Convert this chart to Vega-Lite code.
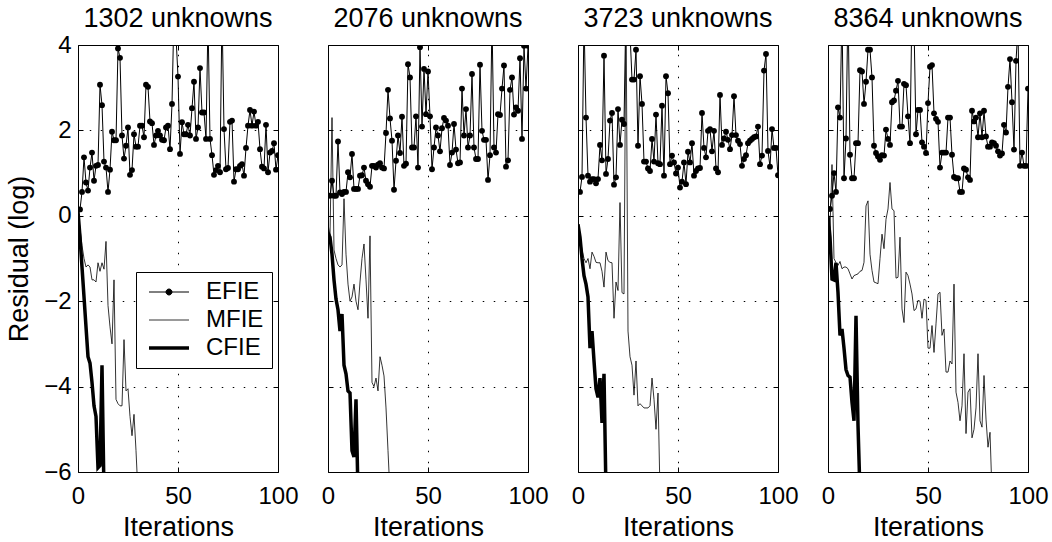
{
"$schema": "https://vega.github.io/schema/vega-lite/v6.json",
"padding": 5,
"bounds": "flush",
"config": {
 "font": "Liberation Sans",
 "view": {"stroke": "black", "strokeWidth": 1},
 "axis": {"domain": false, "ticks": false, "grid": true, "gridColor": "black", "gridOpacity": 1, "gridWidth": 1, "labelFontSize": 24, "labelColor": "black", "titleFontSize": 27, "titleFontWeight": "normal", "titleColor": "black", "labelFont": "Liberation Sans", "titleFont": "Liberation Sans", "labelFlush": false, "labelOverlap": false}
},
"spacing": 50,
"data": {"values": [
{"p":"1302 unknowns","s":"EFIE","x":1,"y":0.15},{"p":"1302 unknowns","s":"EFIE","x":2,"y":0.56},{"p":"1302 unknowns","s":"EFIE","x":3,"y":1.37},{"p":"1302 unknowns","s":"EFIE","x":4,"y":0.78},{"p":"1302 unknowns","s":"EFIE","x":5,"y":0.59},{"p":"1302 unknowns","s":"EFIE","x":6,"y":1.13},{"p":"1302 unknowns","s":"EFIE","x":7,"y":1.48},{"p":"1302 unknowns","s":"EFIE","x":8,"y":0.82},{"p":"1302 unknowns","s":"EFIE","x":9,"y":1.17},{"p":"1302 unknowns","s":"EFIE","x":10,"y":1.19},
{"p":"1302 unknowns","s":"EFIE","x":11,"y":3.07},{"p":"1302 unknowns","s":"EFIE","x":12,"y":2.59},{"p":"1302 unknowns","s":"EFIE","x":13,"y":1.27},{"p":"1302 unknowns","s":"EFIE","x":14,"y":1.13},{"p":"1302 unknowns","s":"EFIE","x":15,"y":0.56},{"p":"1302 unknowns","s":"EFIE","x":16,"y":1.08},{"p":"1302 unknowns","s":"EFIE","x":17,"y":1.97},{"p":"1302 unknowns","s":"EFIE","x":18,"y":1.77},{"p":"1302 unknowns","s":"EFIE","x":19,"y":1.77},{"p":"1302 unknowns","s":"EFIE","x":20,"y":3.92},
{"p":"1302 unknowns","s":"EFIE","x":21,"y":3.70},{"p":"1302 unknowns","s":"EFIE","x":22,"y":1.88},{"p":"1302 unknowns","s":"EFIE","x":23,"y":1.34},{"p":"1302 unknowns","s":"EFIE","x":24,"y":1.64},{"p":"1302 unknowns","s":"EFIE","x":25,"y":2.07},{"p":"1302 unknowns","s":"EFIE","x":26,"y":0.96},{"p":"1302 unknowns","s":"EFIE","x":27,"y":1.07},{"p":"1302 unknowns","s":"EFIE","x":28,"y":1.91},{"p":"1302 unknowns","s":"EFIE","x":29,"y":1.62},{"p":"1302 unknowns","s":"EFIE","x":30,"y":1.62},
{"p":"1302 unknowns","s":"EFIE","x":31,"y":2.11},{"p":"1302 unknowns","s":"EFIE","x":32,"y":2.11},{"p":"1302 unknowns","s":"EFIE","x":33,"y":1.84},{"p":"1302 unknowns","s":"EFIE","x":34,"y":3.07},{"p":"1302 unknowns","s":"EFIE","x":35,"y":3.02},{"p":"1302 unknowns","s":"EFIE","x":36,"y":2.21},{"p":"1302 unknowns","s":"EFIE","x":37,"y":2.17},{"p":"1302 unknowns","s":"EFIE","x":38,"y":1.66},{"p":"1302 unknowns","s":"EFIE","x":39,"y":1.88},{"p":"1302 unknowns","s":"EFIE","x":40,"y":1.99},
{"p":"1302 unknowns","s":"EFIE","x":41,"y":1.88},{"p":"1302 unknowns","s":"EFIE","x":42,"y":1.78},{"p":"1302 unknowns","s":"EFIE","x":43,"y":1.77},{"p":"1302 unknowns","s":"EFIE","x":44,"y":2.07},{"p":"1302 unknowns","s":"EFIE","x":45,"y":2.11},{"p":"1302 unknowns","s":"EFIE","x":46,"y":1.56},{"p":"1302 unknowns","s":"EFIE","x":47,"y":2.62},{"p":"1302 unknowns","s":"EFIE","x":48,"y":4.8},{"p":"1302 unknowns","s":"EFIE","x":49,"y":4.2},{"p":"1302 unknowns","s":"EFIE","x":50,"y":3.26},
{"p":"1302 unknowns","s":"EFIE","x":51,"y":1.45},{"p":"1302 unknowns","s":"EFIE","x":52,"y":2.19},{"p":"1302 unknowns","s":"EFIE","x":53,"y":1.91},{"p":"1302 unknowns","s":"EFIE","x":54,"y":1.91},{"p":"1302 unknowns","s":"EFIE","x":55,"y":2.13},{"p":"1302 unknowns","s":"EFIE","x":56,"y":1.88},{"p":"1302 unknowns","s":"EFIE","x":57,"y":2.52},{"p":"1302 unknowns","s":"EFIE","x":58,"y":3.14},{"p":"1302 unknowns","s":"EFIE","x":59,"y":1.80},{"p":"1302 unknowns","s":"EFIE","x":60,"y":2.07},
{"p":"1302 unknowns","s":"EFIE","x":61,"y":3.46},{"p":"1302 unknowns","s":"EFIE","x":62,"y":2.42},{"p":"1302 unknowns","s":"EFIE","x":63,"y":2.42},{"p":"1302 unknowns","s":"EFIE","x":64,"y":1.80},{"p":"1302 unknowns","s":"EFIE","x":65,"y":4.6},{"p":"1302 unknowns","s":"EFIE","x":66,"y":1.80},{"p":"1302 unknowns","s":"EFIE","x":67,"y":1.42},{"p":"1302 unknowns","s":"EFIE","x":68,"y":0.96},{"p":"1302 unknowns","s":"EFIE","x":69,"y":1.07},{"p":"1302 unknowns","s":"EFIE","x":70,"y":1.17},
{"p":"1302 unknowns","s":"EFIE","x":71,"y":1.02},{"p":"1302 unknowns","s":"EFIE","x":72,"y":4.8},{"p":"1302 unknowns","s":"EFIE","x":73,"y":2.03},{"p":"1302 unknowns","s":"EFIE","x":74,"y":1.09},{"p":"1302 unknowns","s":"EFIE","x":75,"y":1.12},{"p":"1302 unknowns","s":"EFIE","x":76,"y":2.20},{"p":"1302 unknowns","s":"EFIE","x":77,"y":2.23},{"p":"1302 unknowns","s":"EFIE","x":78,"y":0.80},{"p":"1302 unknowns","s":"EFIE","x":79,"y":1.09},{"p":"1302 unknowns","s":"EFIE","x":80,"y":1.09},
{"p":"1302 unknowns","s":"EFIE","x":81,"y":1.17},{"p":"1302 unknowns","s":"EFIE","x":82,"y":1.21},{"p":"1302 unknowns","s":"EFIE","x":83,"y":0.94},{"p":"1302 unknowns","s":"EFIE","x":84,"y":1.59},{"p":"1302 unknowns","s":"EFIE","x":85,"y":2.11},{"p":"1302 unknowns","s":"EFIE","x":86,"y":2.48},{"p":"1302 unknowns","s":"EFIE","x":87,"y":2.11},{"p":"1302 unknowns","s":"EFIE","x":88,"y":2.44},{"p":"1302 unknowns","s":"EFIE","x":89,"y":2.11},{"p":"1302 unknowns","s":"EFIE","x":90,"y":2.20},
{"p":"1302 unknowns","s":"EFIE","x":91,"y":1.56},{"p":"1302 unknowns","s":"EFIE","x":92,"y":1.15},{"p":"1302 unknowns","s":"EFIE","x":93,"y":1.11},{"p":"1302 unknowns","s":"EFIE","x":94,"y":2.13},{"p":"1302 unknowns","s":"EFIE","x":95,"y":1.02},{"p":"1302 unknowns","s":"EFIE","x":96,"y":1.48},{"p":"1302 unknowns","s":"EFIE","x":97,"y":1.52},{"p":"1302 unknowns","s":"EFIE","x":98,"y":1.70},{"p":"1302 unknowns","s":"EFIE","x":99,"y":1.08},{"p":"1302 unknowns","s":"EFIE","x":100,"y":1.42},
{"p":"1302 unknowns","s":"MFIE","x":0,"y":0.1},{"p":"1302 unknowns","s":"MFIE","x":1,"y":-0.3},{"p":"1302 unknowns","s":"MFIE","x":2,"y":-0.7},{"p":"1302 unknowns","s":"MFIE","x":3,"y":-1.0},{"p":"1302 unknowns","s":"MFIE","x":4,"y":-1.2},{"p":"1302 unknowns","s":"MFIE","x":5,"y":-1.15},{"p":"1302 unknowns","s":"MFIE","x":6,"y":-1.2},{"p":"1302 unknowns","s":"MFIE","x":7,"y":-1.5},{"p":"1302 unknowns","s":"MFIE","x":8,"y":-1.5},{"p":"1302 unknowns","s":"MFIE","x":9,"y":-1.55},
{"p":"1302 unknowns","s":"MFIE","x":10,"y":-1.1},{"p":"1302 unknowns","s":"MFIE","x":11,"y":-1.3},{"p":"1302 unknowns","s":"MFIE","x":12,"y":-1.1},{"p":"1302 unknowns","s":"MFIE","x":13,"y":-1.25},{"p":"1302 unknowns","s":"MFIE","x":14,"y":-0.6},{"p":"1302 unknowns","s":"MFIE","x":15,"y":-2.1},{"p":"1302 unknowns","s":"MFIE","x":16,"y":-2.6},{"p":"1302 unknowns","s":"MFIE","x":17,"y":-3.0},{"p":"1302 unknowns","s":"MFIE","x":18,"y":-1.5},{"p":"1302 unknowns","s":"MFIE","x":19,"y":-4.3},
{"p":"1302 unknowns","s":"MFIE","x":20,"y":-4.4},{"p":"1302 unknowns","s":"MFIE","x":21,"y":-4.45},{"p":"1302 unknowns","s":"MFIE","x":22,"y":-4.45},{"p":"1302 unknowns","s":"MFIE","x":23,"y":-2.9},{"p":"1302 unknowns","s":"MFIE","x":24,"y":-4.1},{"p":"1302 unknowns","s":"MFIE","x":25,"y":-4.05},{"p":"1302 unknowns","s":"MFIE","x":26,"y":-4.7},{"p":"1302 unknowns","s":"MFIE","x":27,"y":-5.15},{"p":"1302 unknowns","s":"MFIE","x":28,"y":-4.65},{"p":"1302 unknowns","s":"MFIE","x":29,"y":-5.5},{"p":"1302 unknowns","s":"MFIE","x":30,"y":-6.5},
{"p":"1302 unknowns","s":"CFIE","x":0,"y":0.1},{"p":"1302 unknowns","s":"CFIE","x":1,"y":-0.5},{"p":"1302 unknowns","s":"CFIE","x":2,"y":-1.2},{"p":"1302 unknowns","s":"CFIE","x":3,"y":-1.9},{"p":"1302 unknowns","s":"CFIE","x":4,"y":-2.6},{"p":"1302 unknowns","s":"CFIE","x":5,"y":-3.3},{"p":"1302 unknowns","s":"CFIE","x":6,"y":-3.45},{"p":"1302 unknowns","s":"CFIE","x":7,"y":-3.9},{"p":"1302 unknowns","s":"CFIE","x":8,"y":-4.45},{"p":"1302 unknowns","s":"CFIE","x":9,"y":-4.7},{"p":"1302 unknowns","s":"CFIE","x":10,"y":-5.9},{"p":"1302 unknowns","s":"CFIE","x":11,"y":-5.85},{"p":"1302 unknowns","s":"CFIE","x":12,"y":-3.5},{"p":"1302 unknowns","s":"CFIE","x":13,"y":-6.5},
{"p":"2076 unknowns","s":"EFIE","x":1,"y":0.47},{"p":"2076 unknowns","s":"EFIE","x":2,"y":0.82},{"p":"2076 unknowns","s":"EFIE","x":3,"y":0.47},{"p":"2076 unknowns","s":"EFIE","x":4,"y":0.47},{"p":"2076 unknowns","s":"EFIE","x":5,"y":1.74},{"p":"2076 unknowns","s":"EFIE","x":6,"y":0.55},{"p":"2076 unknowns","s":"EFIE","x":7,"y":0.51},{"p":"2076 unknowns","s":"EFIE","x":8,"y":0.56},{"p":"2076 unknowns","s":"EFIE","x":9,"y":0.56},{"p":"2076 unknowns","s":"EFIE","x":10,"y":1.02},
{"p":"2076 unknowns","s":"EFIE","x":11,"y":0.9},{"p":"2076 unknowns","s":"EFIE","x":12,"y":1.45},{"p":"2076 unknowns","s":"EFIE","x":13,"y":0.63},{"p":"2076 unknowns","s":"EFIE","x":14,"y":0.63},{"p":"2076 unknowns","s":"EFIE","x":15,"y":0.63},{"p":"2076 unknowns","s":"EFIE","x":16,"y":0.94},{"p":"2076 unknowns","s":"EFIE","x":17,"y":0.95},{"p":"2076 unknowns","s":"EFIE","x":18,"y":1.13},{"p":"2076 unknowns","s":"EFIE","x":19,"y":0.82},{"p":"2076 unknowns","s":"EFIE","x":20,"y":0.74},
{"p":"2076 unknowns","s":"EFIE","x":21,"y":0.68},{"p":"2076 unknowns","s":"EFIE","x":22,"y":1.17},{"p":"2076 unknowns","s":"EFIE","x":23,"y":1.17},{"p":"2076 unknowns","s":"EFIE","x":24,"y":1.13},{"p":"2076 unknowns","s":"EFIE","x":25,"y":1.2},{"p":"2076 unknowns","s":"EFIE","x":26,"y":1.23},{"p":"2076 unknowns","s":"EFIE","x":27,"y":1.13},{"p":"2076 unknowns","s":"EFIE","x":28,"y":1.11},{"p":"2076 unknowns","s":"EFIE","x":29,"y":1.94},{"p":"2076 unknowns","s":"EFIE","x":30,"y":2.95},
{"p":"2076 unknowns","s":"EFIE","x":31,"y":2.28},{"p":"2076 unknowns","s":"EFIE","x":32,"y":1.76},{"p":"2076 unknowns","s":"EFIE","x":33,"y":0.61},{"p":"2076 unknowns","s":"EFIE","x":34,"y":1.29},{"p":"2076 unknowns","s":"EFIE","x":35,"y":1.88},{"p":"2076 unknowns","s":"EFIE","x":36,"y":1.47},{"p":"2076 unknowns","s":"EFIE","x":37,"y":2.32},{"p":"2076 unknowns","s":"EFIE","x":38,"y":1.17},{"p":"2076 unknowns","s":"EFIE","x":39,"y":1.22},{"p":"2076 unknowns","s":"EFIE","x":40,"y":3.55},
{"p":"2076 unknowns","s":"EFIE","x":41,"y":3.24},{"p":"2076 unknowns","s":"EFIE","x":42,"y":1.6},{"p":"2076 unknowns","s":"EFIE","x":43,"y":1.6},{"p":"2076 unknowns","s":"EFIE","x":44,"y":2.33},{"p":"2076 unknowns","s":"EFIE","x":45,"y":1.13},{"p":"2076 unknowns","s":"EFIE","x":46,"y":3.95},{"p":"2076 unknowns","s":"EFIE","x":47,"y":2.09},{"p":"2076 unknowns","s":"EFIE","x":48,"y":3.44},{"p":"2076 unknowns","s":"EFIE","x":49,"y":2.38},{"p":"2076 unknowns","s":"EFIE","x":50,"y":3.38},
{"p":"2076 unknowns","s":"EFIE","x":51,"y":2.33},{"p":"2076 unknowns","s":"EFIE","x":52,"y":1.09},{"p":"2076 unknowns","s":"EFIE","x":53,"y":1.6},{"p":"2076 unknowns","s":"EFIE","x":54,"y":2.07},{"p":"2076 unknowns","s":"EFIE","x":55,"y":1.88},{"p":"2076 unknowns","s":"EFIE","x":56,"y":1.51},{"p":"2076 unknowns","s":"EFIE","x":57,"y":2.05},{"p":"2076 unknowns","s":"EFIE","x":58,"y":2.29},{"p":"2076 unknowns","s":"EFIE","x":59,"y":2.23},{"p":"2076 unknowns","s":"EFIE","x":60,"y":2.11},
{"p":"2076 unknowns","s":"EFIE","x":61,"y":1.19},{"p":"2076 unknowns","s":"EFIE","x":62,"y":1.48},{"p":"2076 unknowns","s":"EFIE","x":63,"y":2.15},{"p":"2076 unknowns","s":"EFIE","x":64,"y":1.55},{"p":"2076 unknowns","s":"EFIE","x":65,"y":1.23},{"p":"2076 unknowns","s":"EFIE","x":66,"y":1.25},{"p":"2076 unknowns","s":"EFIE","x":67,"y":2.98},{"p":"2076 unknowns","s":"EFIE","x":68,"y":1.88},{"p":"2076 unknowns","s":"EFIE","x":69,"y":2.5},{"p":"2076 unknowns","s":"EFIE","x":70,"y":1.6},
{"p":"2076 unknowns","s":"EFIE","x":71,"y":1.88},{"p":"2076 unknowns","s":"EFIE","x":72,"y":3.32},{"p":"2076 unknowns","s":"EFIE","x":73,"y":1.6},{"p":"2076 unknowns","s":"EFIE","x":74,"y":1.33},{"p":"2076 unknowns","s":"EFIE","x":75,"y":1.33},{"p":"2076 unknowns","s":"EFIE","x":76,"y":3.54},{"p":"2076 unknowns","s":"EFIE","x":77,"y":1.99},{"p":"2076 unknowns","s":"EFIE","x":78,"y":1.78},{"p":"2076 unknowns","s":"EFIE","x":79,"y":1.78},{"p":"2076 unknowns","s":"EFIE","x":80,"y":0.84},
{"p":"2076 unknowns","s":"EFIE","x":81,"y":1.42},{"p":"2076 unknowns","s":"EFIE","x":82,"y":4.6},{"p":"2076 unknowns","s":"EFIE","x":83,"y":1.6},{"p":"2076 unknowns","s":"EFIE","x":84,"y":1.48},{"p":"2076 unknowns","s":"EFIE","x":85,"y":2.38},{"p":"2076 unknowns","s":"EFIE","x":86,"y":2.36},{"p":"2076 unknowns","s":"EFIE","x":87,"y":2.98},{"p":"2076 unknowns","s":"EFIE","x":88,"y":3.52},{"p":"2076 unknowns","s":"EFIE","x":89,"y":1.15},{"p":"2076 unknowns","s":"EFIE","x":90,"y":1.3},
{"p":"2076 unknowns","s":"EFIE","x":91,"y":2.95},{"p":"2076 unknowns","s":"EFIE","x":92,"y":3.24},{"p":"2076 unknowns","s":"EFIE","x":93,"y":2.37},{"p":"2076 unknowns","s":"EFIE","x":94,"y":2.54},{"p":"2076 unknowns","s":"EFIE","x":95,"y":2.46},{"p":"2076 unknowns","s":"EFIE","x":96,"y":3.69},{"p":"2076 unknowns","s":"EFIE","x":97,"y":1.8},{"p":"2076 unknowns","s":"EFIE","x":98,"y":3.98},{"p":"2076 unknowns","s":"EFIE","x":99,"y":2.98},{"p":"2076 unknowns","s":"EFIE","x":100,"y":3.98},
{"p":"2076 unknowns","s":"MFIE","x":0,"y":-0.2},{"p":"2076 unknowns","s":"MFIE","x":1,"y":-0.45},{"p":"2076 unknowns","s":"MFIE","x":2,"y":2.3},{"p":"2076 unknowns","s":"MFIE","x":3,"y":-0.8},{"p":"2076 unknowns","s":"MFIE","x":4,"y":-1.0},{"p":"2076 unknowns","s":"MFIE","x":5,"y":-1.15},{"p":"2076 unknowns","s":"MFIE","x":6,"y":-1.2},{"p":"2076 unknowns","s":"MFIE","x":7,"y":-1.15},{"p":"2076 unknowns","s":"MFIE","x":8,"y":0.4},{"p":"2076 unknowns","s":"MFIE","x":9,"y":-0.9},
{"p":"2076 unknowns","s":"MFIE","x":10,"y":-1.6},{"p":"2076 unknowns","s":"MFIE","x":11,"y":-2.0},{"p":"2076 unknowns","s":"MFIE","x":12,"y":-1.9},{"p":"2076 unknowns","s":"MFIE","x":13,"y":-1.6},{"p":"2076 unknowns","s":"MFIE","x":14,"y":-2.0},{"p":"2076 unknowns","s":"MFIE","x":15,"y":-2.2},{"p":"2076 unknowns","s":"MFIE","x":16,"y":-1.55},{"p":"2076 unknowns","s":"MFIE","x":17,"y":-1.0},{"p":"2076 unknowns","s":"MFIE","x":18,"y":-0.66},{"p":"2076 unknowns","s":"MFIE","x":19,"y":-1.5},
{"p":"2076 unknowns","s":"MFIE","x":20,"y":-2.4},{"p":"2076 unknowns","s":"MFIE","x":21,"y":-0.47},{"p":"2076 unknowns","s":"MFIE","x":22,"y":-3.9},{"p":"2076 unknowns","s":"MFIE","x":23,"y":-4.0},{"p":"2076 unknowns","s":"MFIE","x":24,"y":-3.8},{"p":"2076 unknowns","s":"MFIE","x":25,"y":-4.1},{"p":"2076 unknowns","s":"MFIE","x":26,"y":-3.3},{"p":"2076 unknowns","s":"MFIE","x":27,"y":-3.5},{"p":"2076 unknowns","s":"MFIE","x":28,"y":-3.75},{"p":"2076 unknowns","s":"MFIE","x":29,"y":-4.5},{"p":"2076 unknowns","s":"MFIE","x":30,"y":-5.5},{"p":"2076 unknowns","s":"MFIE","x":31,"y":-6.5},
{"p":"2076 unknowns","s":"CFIE","x":0,"y":-0.4},{"p":"2076 unknowns","s":"CFIE","x":1,"y":-0.5},{"p":"2076 unknowns","s":"CFIE","x":2,"y":-0.9},{"p":"2076 unknowns","s":"CFIE","x":3,"y":-1.5},{"p":"2076 unknowns","s":"CFIE","x":4,"y":-1.95},{"p":"2076 unknowns","s":"CFIE","x":5,"y":-2.2},{"p":"2076 unknowns","s":"CFIE","x":6,"y":-2.7},{"p":"2076 unknowns","s":"CFIE","x":7,"y":-2.3},{"p":"2076 unknowns","s":"CFIE","x":8,"y":-3.5},{"p":"2076 unknowns","s":"CFIE","x":9,"y":-3.7},{"p":"2076 unknowns","s":"CFIE","x":10,"y":-4.1},{"p":"2076 unknowns","s":"CFIE","x":11,"y":-4.15},{"p":"2076 unknowns","s":"CFIE","x":12,"y":-5.5},{"p":"2076 unknowns","s":"CFIE","x":13,"y":-5.65},{"p":"2076 unknowns","s":"CFIE","x":14,"y":-4.3},{"p":"2076 unknowns","s":"CFIE","x":15,"y":-6.5},
{"p":"3723 unknowns","s":"EFIE","x":1,"y":0.56},{"p":"3723 unknowns","s":"EFIE","x":2,"y":0.91},{"p":"3723 unknowns","s":"EFIE","x":3,"y":4.6},{"p":"3723 unknowns","s":"EFIE","x":4,"y":2.30},{"p":"3723 unknowns","s":"EFIE","x":5,"y":0.94},{"p":"3723 unknowns","s":"EFIE","x":6,"y":0.8},{"p":"3723 unknowns","s":"EFIE","x":7,"y":0.86},{"p":"3723 unknowns","s":"EFIE","x":8,"y":0.86},{"p":"3723 unknowns","s":"EFIE","x":9,"y":0.76},{"p":"3723 unknowns","s":"EFIE","x":10,"y":0.86},
{"p":"3723 unknowns","s":"EFIE","x":11,"y":1.66},{"p":"3723 unknowns","s":"EFIE","x":12,"y":1.3},{"p":"3723 unknowns","s":"EFIE","x":13,"y":3.75},{"p":"3723 unknowns","s":"EFIE","x":14,"y":0.98},{"p":"3723 unknowns","s":"EFIE","x":15,"y":1.33},{"p":"3723 unknowns","s":"EFIE","x":16,"y":2.23},{"p":"3723 unknowns","s":"EFIE","x":17,"y":2.41},{"p":"3723 unknowns","s":"EFIE","x":18,"y":0.73},{"p":"3723 unknowns","s":"EFIE","x":19,"y":0.9},{"p":"3723 unknowns","s":"EFIE","x":20,"y":2.5},
{"p":"3723 unknowns","s":"EFIE","x":21,"y":1.66},{"p":"3723 unknowns","s":"EFIE","x":22,"y":2.25},{"p":"3723 unknowns","s":"EFIE","x":23,"y":2.15},{"p":"3723 unknowns","s":"EFIE","x":24,"y":5.0},{"p":"3723 unknowns","s":"EFIE","x":25,"y":4.6},{"p":"3723 unknowns","s":"EFIE","x":26,"y":4.3},{"p":"3723 unknowns","s":"EFIE","x":27,"y":3.19},{"p":"3723 unknowns","s":"EFIE","x":28,"y":3.19},{"p":"3723 unknowns","s":"EFIE","x":29,"y":3.89},{"p":"3723 unknowns","s":"EFIE","x":30,"y":1.64},
{"p":"3723 unknowns","s":"EFIE","x":31,"y":3.27},{"p":"3723 unknowns","s":"EFIE","x":32,"y":2.62},{"p":"3723 unknowns","s":"EFIE","x":33,"y":1.27},{"p":"3723 unknowns","s":"EFIE","x":34,"y":1.27},{"p":"3723 unknowns","s":"EFIE","x":35,"y":1.11},{"p":"3723 unknowns","s":"EFIE","x":36,"y":1.05},{"p":"3723 unknowns","s":"EFIE","x":37,"y":1.8},{"p":"3723 unknowns","s":"EFIE","x":38,"y":1.27},{"p":"3723 unknowns","s":"EFIE","x":39,"y":2.37},{"p":"3723 unknowns","s":"EFIE","x":40,"y":1.23},
{"p":"3723 unknowns","s":"EFIE","x":41,"y":1.21},{"p":"3723 unknowns","s":"EFIE","x":42,"y":2.58},{"p":"3723 unknowns","s":"EFIE","x":43,"y":0.94},{"p":"3723 unknowns","s":"EFIE","x":44,"y":3.27},{"p":"3723 unknowns","s":"EFIE","x":45,"y":2.87},{"p":"3723 unknowns","s":"EFIE","x":46,"y":1.21},{"p":"3723 unknowns","s":"EFIE","x":47,"y":1.41},{"p":"3723 unknowns","s":"EFIE","x":48,"y":1.25},{"p":"3723 unknowns","s":"EFIE","x":49,"y":0.99},{"p":"3723 unknowns","s":"EFIE","x":50,"y":1.13},
{"p":"3723 unknowns","s":"EFIE","x":51,"y":0.66},{"p":"3723 unknowns","s":"EFIE","x":52,"y":0.8},{"p":"3723 unknowns","s":"EFIE","x":53,"y":1.25},{"p":"3723 unknowns","s":"EFIE","x":54,"y":0.74},{"p":"3723 unknowns","s":"EFIE","x":55,"y":1.5},{"p":"3723 unknowns","s":"EFIE","x":56,"y":1.25},{"p":"3723 unknowns","s":"EFIE","x":57,"y":1.7},{"p":"3723 unknowns","s":"EFIE","x":58,"y":0.94},{"p":"3723 unknowns","s":"EFIE","x":59,"y":1.05},{"p":"3723 unknowns","s":"EFIE","x":60,"y":1.11},
{"p":"3723 unknowns","s":"EFIE","x":61,"y":1.12},{"p":"3723 unknowns","s":"EFIE","x":62,"y":2.41},{"p":"3723 unknowns","s":"EFIE","x":63,"y":1.59},{"p":"3723 unknowns","s":"EFIE","x":64,"y":1.37},{"p":"3723 unknowns","s":"EFIE","x":65,"y":1.99},{"p":"3723 unknowns","s":"EFIE","x":66,"y":2.03},{"p":"3723 unknowns","s":"EFIE","x":67,"y":1.51},{"p":"3723 unknowns","s":"EFIE","x":68,"y":1.99},{"p":"3723 unknowns","s":"EFIE","x":69,"y":1.11},{"p":"3723 unknowns","s":"EFIE","x":70,"y":1.02},
{"p":"3723 unknowns","s":"EFIE","x":71,"y":2.83},{"p":"3723 unknowns","s":"EFIE","x":72,"y":1.66},{"p":"3723 unknowns","s":"EFIE","x":73,"y":1.81},{"p":"3723 unknowns","s":"EFIE","x":74,"y":1.97},{"p":"3723 unknowns","s":"EFIE","x":75,"y":1.78},{"p":"3723 unknowns","s":"EFIE","x":76,"y":1.56},{"p":"3723 unknowns","s":"EFIE","x":77,"y":1.89},{"p":"3723 unknowns","s":"EFIE","x":78,"y":2.8},{"p":"3723 unknowns","s":"EFIE","x":79,"y":1.89},{"p":"3723 unknowns","s":"EFIE","x":80,"y":1.76},
{"p":"3723 unknowns","s":"EFIE","x":81,"y":1.68},{"p":"3723 unknowns","s":"EFIE","x":82,"y":1.17},{"p":"3723 unknowns","s":"EFIE","x":83,"y":1.33},{"p":"3723 unknowns","s":"EFIE","x":84,"y":1.42},{"p":"3723 unknowns","s":"EFIE","x":85,"y":1.7},{"p":"3723 unknowns","s":"EFIE","x":86,"y":1.76},{"p":"3723 unknowns","s":"EFIE","x":87,"y":1.8},{"p":"3723 unknowns","s":"EFIE","x":88,"y":1.84},{"p":"3723 unknowns","s":"EFIE","x":89,"y":1.86},{"p":"3723 unknowns","s":"EFIE","x":90,"y":2.09},
{"p":"3723 unknowns","s":"EFIE","x":91,"y":1.21},{"p":"3723 unknowns","s":"EFIE","x":92,"y":1.41},{"p":"3723 unknowns","s":"EFIE","x":93,"y":3.4},{"p":"3723 unknowns","s":"EFIE","x":94,"y":3.79},{"p":"3723 unknowns","s":"EFIE","x":95,"y":1.52},{"p":"3723 unknowns","s":"EFIE","x":96,"y":1.15},{"p":"3723 unknowns","s":"EFIE","x":97,"y":2.03},{"p":"3723 unknowns","s":"EFIE","x":98,"y":1.59},{"p":"3723 unknowns","s":"EFIE","x":99,"y":1.59},{"p":"3723 unknowns","s":"EFIE","x":100,"y":0.95},
{"p":"3723 unknowns","s":"MFIE","x":0,"y":-0.2},{"p":"3723 unknowns","s":"MFIE","x":1,"y":-0.5},{"p":"3723 unknowns","s":"MFIE","x":2,"y":-0.8},{"p":"3723 unknowns","s":"MFIE","x":3,"y":-1.0},{"p":"3723 unknowns","s":"MFIE","x":4,"y":-1.1},{"p":"3723 unknowns","s":"MFIE","x":5,"y":-1.0},{"p":"3723 unknowns","s":"MFIE","x":6,"y":-1.24},{"p":"3723 unknowns","s":"MFIE","x":7,"y":-0.85},{"p":"3723 unknowns","s":"MFIE","x":8,"y":-0.95},{"p":"3723 unknowns","s":"MFIE","x":9,"y":-1.09},
{"p":"3723 unknowns","s":"MFIE","x":10,"y":-1.1},{"p":"3723 unknowns","s":"MFIE","x":11,"y":-1.1},{"p":"3723 unknowns","s":"MFIE","x":12,"y":-1.3},{"p":"3723 unknowns","s":"MFIE","x":13,"y":-1.67},{"p":"3723 unknowns","s":"MFIE","x":14,"y":-0.85},{"p":"3723 unknowns","s":"MFIE","x":15,"y":-1.05},{"p":"3723 unknowns","s":"MFIE","x":16,"y":-1.09},{"p":"3723 unknowns","s":"MFIE","x":17,"y":-1.1},{"p":"3723 unknowns","s":"MFIE","x":18,"y":-2.4},{"p":"3723 unknowns","s":"MFIE","x":19,"y":-1.55},
{"p":"3723 unknowns","s":"MFIE","x":20,"y":-1.75},{"p":"3723 unknowns","s":"MFIE","x":21,"y":0.31},{"p":"3723 unknowns","s":"MFIE","x":22,"y":-1.8},{"p":"3723 unknowns","s":"MFIE","x":23,"y":-1.83},{"p":"3723 unknowns","s":"MFIE","x":24,"y":5.0},{"p":"3723 unknowns","s":"MFIE","x":25,"y":-2.7},{"p":"3723 unknowns","s":"MFIE","x":26,"y":-3.3},{"p":"3723 unknowns","s":"MFIE","x":27,"y":-3.5},{"p":"3723 unknowns","s":"MFIE","x":28,"y":-4.2},{"p":"3723 unknowns","s":"MFIE","x":29,"y":-3.4},
{"p":"3723 unknowns","s":"MFIE","x":30,"y":-4.45},{"p":"3723 unknowns","s":"MFIE","x":31,"y":-4.4},{"p":"3723 unknowns","s":"MFIE","x":32,"y":-4.45},{"p":"3723 unknowns","s":"MFIE","x":33,"y":-4.5},{"p":"3723 unknowns","s":"MFIE","x":34,"y":-4.5},{"p":"3723 unknowns","s":"MFIE","x":35,"y":-4.5},{"p":"3723 unknowns","s":"MFIE","x":36,"y":-4.45},{"p":"3723 unknowns","s":"MFIE","x":37,"y":-3.8},{"p":"3723 unknowns","s":"MFIE","x":38,"y":-4.3},{"p":"3723 unknowns","s":"MFIE","x":39,"y":-5.0},{"p":"3723 unknowns","s":"MFIE","x":40,"y":-4.15},{"p":"3723 unknowns","s":"MFIE","x":41,"y":-6.5},
{"p":"3723 unknowns","s":"CFIE","x":0,"y":-0.2},{"p":"3723 unknowns","s":"CFIE","x":1,"y":-0.5},{"p":"3723 unknowns","s":"CFIE","x":2,"y":-1.0},{"p":"3723 unknowns","s":"CFIE","x":3,"y":-1.4},{"p":"3723 unknowns","s":"CFIE","x":4,"y":-1.6},{"p":"3723 unknowns","s":"CFIE","x":5,"y":-1.9},{"p":"3723 unknowns","s":"CFIE","x":6,"y":-3.1},{"p":"3723 unknowns","s":"CFIE","x":7,"y":-2.7},{"p":"3723 unknowns","s":"CFIE","x":8,"y":-3.4},{"p":"3723 unknowns","s":"CFIE","x":9,"y":-4.05},{"p":"3723 unknowns","s":"CFIE","x":10,"y":-4.25},{"p":"3723 unknowns","s":"CFIE","x":11,"y":-3.8},{"p":"3723 unknowns","s":"CFIE","x":12,"y":-4.85},{"p":"3723 unknowns","s":"CFIE","x":13,"y":-3.7},{"p":"3723 unknowns","s":"CFIE","x":14,"y":-6.5},
{"p":"8364 unknowns","s":"EFIE","x":1,"y":0.16},{"p":"8364 unknowns","s":"EFIE","x":2,"y":0.47},{"p":"8364 unknowns","s":"EFIE","x":3,"y":1.0},{"p":"8364 unknowns","s":"EFIE","x":4,"y":0.56},{"p":"8364 unknowns","s":"EFIE","x":5,"y":2.54},{"p":"8364 unknowns","s":"EFIE","x":6,"y":2.3},{"p":"8364 unknowns","s":"EFIE","x":7,"y":4.8},{"p":"8364 unknowns","s":"EFIE","x":8,"y":0.88},{"p":"8364 unknowns","s":"EFIE","x":9,"y":1.81},{"p":"8364 unknowns","s":"EFIE","x":10,"y":5.0},
{"p":"8364 unknowns","s":"EFIE","x":11,"y":1.43},{"p":"8364 unknowns","s":"EFIE","x":12,"y":0.88},{"p":"8364 unknowns","s":"EFIE","x":13,"y":0.88},{"p":"8364 unknowns","s":"EFIE","x":14,"y":1.7},{"p":"8364 unknowns","s":"EFIE","x":15,"y":1.7},{"p":"8364 unknowns","s":"EFIE","x":16,"y":3.41},{"p":"8364 unknowns","s":"EFIE","x":17,"y":3.38},{"p":"8364 unknowns","s":"EFIE","x":18,"y":2.62},{"p":"8364 unknowns","s":"EFIE","x":19,"y":3.14},{"p":"8364 unknowns","s":"EFIE","x":20,"y":3.89},
{"p":"8364 unknowns","s":"EFIE","x":21,"y":3.89},{"p":"8364 unknowns","s":"EFIE","x":22,"y":3.24},{"p":"8364 unknowns","s":"EFIE","x":23,"y":1.64},{"p":"8364 unknowns","s":"EFIE","x":24,"y":1.47},{"p":"8364 unknowns","s":"EFIE","x":25,"y":1.39},{"p":"8364 unknowns","s":"EFIE","x":26,"y":1.31},{"p":"8364 unknowns","s":"EFIE","x":27,"y":1.42},{"p":"8364 unknowns","s":"EFIE","x":28,"y":1.41},{"p":"8364 unknowns","s":"EFIE","x":29,"y":2.02},{"p":"8364 unknowns","s":"EFIE","x":30,"y":1.8},
{"p":"8364 unknowns","s":"EFIE","x":31,"y":1.66},{"p":"8364 unknowns","s":"EFIE","x":32,"y":2.66},{"p":"8364 unknowns","s":"EFIE","x":33,"y":2.7},{"p":"8364 unknowns","s":"EFIE","x":34,"y":2.93},{"p":"8364 unknowns","s":"EFIE","x":35,"y":3.16},{"p":"8364 unknowns","s":"EFIE","x":36,"y":2.09},{"p":"8364 unknowns","s":"EFIE","x":37,"y":2.09},{"p":"8364 unknowns","s":"EFIE","x":38,"y":3.09},{"p":"8364 unknowns","s":"EFIE","x":39,"y":3.06},{"p":"8364 unknowns","s":"EFIE","x":40,"y":2.33},
{"p":"8364 unknowns","s":"EFIE","x":41,"y":1.7},{"p":"8364 unknowns","s":"EFIE","x":42,"y":5.0},{"p":"8364 unknowns","s":"EFIE","x":43,"y":4.5},{"p":"8364 unknowns","s":"EFIE","x":44,"y":1.91},{"p":"8364 unknowns","s":"EFIE","x":45,"y":2.48},{"p":"8364 unknowns","s":"EFIE","x":46,"y":2.48},{"p":"8364 unknowns","s":"EFIE","x":47,"y":1.72},{"p":"8364 unknowns","s":"EFIE","x":48,"y":1.62},{"p":"8364 unknowns","s":"EFIE","x":49,"y":1.47},{"p":"8364 unknowns","s":"EFIE","x":50,"y":2.64},
{"p":"8364 unknowns","s":"EFIE","x":51,"y":3.49},{"p":"8364 unknowns","s":"EFIE","x":52,"y":3.53},{"p":"8364 unknowns","s":"EFIE","x":53,"y":2.4},{"p":"8364 unknowns","s":"EFIE","x":54,"y":2.27},{"p":"8364 unknowns","s":"EFIE","x":55,"y":2.2},{"p":"8364 unknowns","s":"EFIE","x":56,"y":1.13},{"p":"8364 unknowns","s":"EFIE","x":57,"y":1.48},{"p":"8364 unknowns","s":"EFIE","x":58,"y":1.48},{"p":"8364 unknowns","s":"EFIE","x":59,"y":1.48},{"p":"8364 unknowns","s":"EFIE","x":60,"y":2.3},
{"p":"8364 unknowns","s":"EFIE","x":61,"y":2.3},{"p":"8364 unknowns","s":"EFIE","x":62,"y":1.43},{"p":"8364 unknowns","s":"EFIE","x":63,"y":0.91},{"p":"8364 unknowns","s":"EFIE","x":64,"y":0.88},{"p":"8364 unknowns","s":"EFIE","x":65,"y":0.88},{"p":"8364 unknowns","s":"EFIE","x":66,"y":0.56},{"p":"8364 unknowns","s":"EFIE","x":67,"y":0.56},{"p":"8364 unknowns","s":"EFIE","x":68,"y":1.11},{"p":"8364 unknowns","s":"EFIE","x":69,"y":1.08},{"p":"8364 unknowns","s":"EFIE","x":70,"y":0.9},
{"p":"8364 unknowns","s":"EFIE","x":71,"y":0.84},{"p":"8364 unknowns","s":"EFIE","x":72,"y":2.46},{"p":"8364 unknowns","s":"EFIE","x":73,"y":2.21},{"p":"8364 unknowns","s":"EFIE","x":74,"y":2.3},{"p":"8364 unknowns","s":"EFIE","x":75,"y":1.84},{"p":"8364 unknowns","s":"EFIE","x":76,"y":2.4},{"p":"8364 unknowns","s":"EFIE","x":77,"y":1.84},{"p":"8364 unknowns","s":"EFIE","x":78,"y":2.46},{"p":"8364 unknowns","s":"EFIE","x":79,"y":1.86},{"p":"8364 unknowns","s":"EFIE","x":80,"y":1.62},
{"p":"8364 unknowns","s":"EFIE","x":81,"y":1.62},{"p":"8364 unknowns","s":"EFIE","x":82,"y":1.72},{"p":"8364 unknowns","s":"EFIE","x":83,"y":1.7},{"p":"8364 unknowns","s":"EFIE","x":84,"y":1.64},{"p":"8364 unknowns","s":"EFIE","x":85,"y":1.51},{"p":"8364 unknowns","s":"EFIE","x":86,"y":1.41},{"p":"8364 unknowns","s":"EFIE","x":87,"y":1.46},{"p":"8364 unknowns","s":"EFIE","x":88,"y":2.13},{"p":"8364 unknowns","s":"EFIE","x":89,"y":1.95},{"p":"8364 unknowns","s":"EFIE","x":90,"y":3.02},
{"p":"8364 unknowns","s":"EFIE","x":91,"y":3.67},{"p":"8364 unknowns","s":"EFIE","x":92,"y":2.66},{"p":"8364 unknowns","s":"EFIE","x":93,"y":1.55},{"p":"8364 unknowns","s":"EFIE","x":94,"y":3.63},{"p":"8364 unknowns","s":"EFIE","x":95,"y":4.4},{"p":"8364 unknowns","s":"EFIE","x":96,"y":1.17},{"p":"8364 unknowns","s":"EFIE","x":97,"y":1.48},{"p":"8364 unknowns","s":"EFIE","x":98,"y":1.17},{"p":"8364 unknowns","s":"EFIE","x":99,"y":1.17},{"p":"8364 unknowns","s":"EFIE","x":100,"y":2.98},
{"p":"8364 unknowns","s":"MFIE","x":0,"y":0.0},{"p":"8364 unknowns","s":"MFIE","x":1,"y":-0.3},{"p":"8364 unknowns","s":"MFIE","x":2,"y":1.2},{"p":"8364 unknowns","s":"MFIE","x":3,"y":-1.0},{"p":"8364 unknowns","s":"MFIE","x":4,"y":-1.1},{"p":"8364 unknowns","s":"MFIE","x":5,"y":-1.16},{"p":"8364 unknowns","s":"MFIE","x":6,"y":-1.07},{"p":"8364 unknowns","s":"MFIE","x":7,"y":-1.24},{"p":"8364 unknowns","s":"MFIE","x":8,"y":-1.2},{"p":"8364 unknowns","s":"MFIE","x":9,"y":-1.2},
{"p":"8364 unknowns","s":"MFIE","x":10,"y":-1.24},{"p":"8364 unknowns","s":"MFIE","x":11,"y":-1.36},{"p":"8364 unknowns","s":"MFIE","x":12,"y":-1.48},{"p":"8364 unknowns","s":"MFIE","x":13,"y":-1.4},{"p":"8364 unknowns","s":"MFIE","x":14,"y":-1.38},{"p":"8364 unknowns","s":"MFIE","x":15,"y":-1.36},{"p":"8364 unknowns","s":"MFIE","x":16,"y":-1.3},{"p":"8364 unknowns","s":"MFIE","x":17,"y":-1.28},{"p":"8364 unknowns","s":"MFIE","x":18,"y":-1.09},{"p":"8364 unknowns","s":"MFIE","x":19,"y":0.23},
{"p":"8364 unknowns","s":"MFIE","x":20,"y":0.35},{"p":"8364 unknowns","s":"MFIE","x":21,"y":-0.9},{"p":"8364 unknowns","s":"MFIE","x":22,"y":-1.28},{"p":"8364 unknowns","s":"MFIE","x":23,"y":-1.55},{"p":"8364 unknowns","s":"MFIE","x":24,"y":-1.57},{"p":"8364 unknowns","s":"MFIE","x":25,"y":-1.59},{"p":"8364 unknowns","s":"MFIE","x":26,"y":-1.0},{"p":"8364 unknowns","s":"MFIE","x":27,"y":-0.43},{"p":"8364 unknowns","s":"MFIE","x":28,"y":-0.77},{"p":"8364 unknowns","s":"MFIE","x":29,"y":-0.08},
{"p":"8364 unknowns","s":"MFIE","x":30,"y":0.16},{"p":"8364 unknowns","s":"MFIE","x":31,"y":0.78},{"p":"8364 unknowns","s":"MFIE","x":32,"y":0.16},{"p":"8364 unknowns","s":"MFIE","x":33,"y":0.12},{"p":"8364 unknowns","s":"MFIE","x":34,"y":-1.46},{"p":"8364 unknowns","s":"MFIE","x":35,"y":-1.44},{"p":"8364 unknowns","s":"MFIE","x":36,"y":-0.5},{"p":"8364 unknowns","s":"MFIE","x":37,"y":-2.18},{"p":"8364 unknowns","s":"MFIE","x":38,"y":-2.5},{"p":"8364 unknowns","s":"MFIE","x":39,"y":-1.32},
{"p":"8364 unknowns","s":"MFIE","x":40,"y":-1.4},{"p":"8364 unknowns","s":"MFIE","x":41,"y":-1.6},{"p":"8364 unknowns","s":"MFIE","x":42,"y":-1.83},{"p":"8364 unknowns","s":"MFIE","x":43,"y":-2.22},{"p":"8364 unknowns","s":"MFIE","x":44,"y":-2.18},{"p":"8364 unknowns","s":"MFIE","x":45,"y":-1.98},{"p":"8364 unknowns","s":"MFIE","x":46,"y":-2.0},{"p":"8364 unknowns","s":"MFIE","x":47,"y":-2.4},{"p":"8364 unknowns","s":"MFIE","x":48,"y":-1.95},{"p":"8364 unknowns","s":"MFIE","x":49,"y":-1.98},
{"p":"8364 unknowns","s":"MFIE","x":50,"y":-3.1},{"p":"8364 unknowns","s":"MFIE","x":51,"y":-3.1},{"p":"8364 unknowns","s":"MFIE","x":52,"y":-2.57},{"p":"8364 unknowns","s":"MFIE","x":53,"y":-3.2},{"p":"8364 unknowns","s":"MFIE","x":54,"y":-2.53},{"p":"8364 unknowns","s":"MFIE","x":55,"y":-1.83},{"p":"8364 unknowns","s":"MFIE","x":56,"y":-1.79},{"p":"8364 unknowns","s":"MFIE","x":57,"y":-2.8},{"p":"8364 unknowns","s":"MFIE","x":58,"y":-2.65},{"p":"8364 unknowns","s":"MFIE","x":59,"y":-3.66},
{"p":"8364 unknowns","s":"MFIE","x":60,"y":-3.66},{"p":"8364 unknowns","s":"MFIE","x":61,"y":-3.4},{"p":"8364 unknowns","s":"MFIE","x":62,"y":-3.47},{"p":"8364 unknowns","s":"MFIE","x":63,"y":-1.6},{"p":"8364 unknowns","s":"MFIE","x":64,"y":-4.13},{"p":"8364 unknowns","s":"MFIE","x":65,"y":-4.37},{"p":"8364 unknowns","s":"MFIE","x":66,"y":-4.8},{"p":"8364 unknowns","s":"MFIE","x":67,"y":-4.45},{"p":"8364 unknowns","s":"MFIE","x":68,"y":-3.23},{"p":"8364 unknowns","s":"MFIE","x":69,"y":-5.1},
{"p":"8364 unknowns","s":"MFIE","x":70,"y":-4.13},{"p":"8364 unknowns","s":"MFIE","x":71,"y":-4.05},{"p":"8364 unknowns","s":"MFIE","x":72,"y":-5.2},{"p":"8364 unknowns","s":"MFIE","x":73,"y":-5.0},{"p":"8364 unknowns","s":"MFIE","x":74,"y":-4.5},{"p":"8364 unknowns","s":"MFIE","x":75,"y":-3.23},{"p":"8364 unknowns","s":"MFIE","x":76,"y":-4.8},{"p":"8364 unknowns","s":"MFIE","x":77,"y":-4.95},{"p":"8364 unknowns","s":"MFIE","x":78,"y":-3.74},{"p":"8364 unknowns","s":"MFIE","x":79,"y":-4.76},
{"p":"8364 unknowns","s":"MFIE","x":80,"y":-5.42},{"p":"8364 unknowns","s":"MFIE","x":81,"y":-5.07},{"p":"8364 unknowns","s":"MFIE","x":82,"y":-6.5},
{"p":"8364 unknowns","s":"CFIE","x":0,"y":0.0},{"p":"8364 unknowns","s":"CFIE","x":1,"y":-0.5},{"p":"8364 unknowns","s":"CFIE","x":2,"y":-1.48},{"p":"8364 unknowns","s":"CFIE","x":3,"y":-1.5},{"p":"8364 unknowns","s":"CFIE","x":4,"y":-1.1},{"p":"8364 unknowns","s":"CFIE","x":5,"y":-1.8},{"p":"8364 unknowns","s":"CFIE","x":6,"y":-2.8},{"p":"8364 unknowns","s":"CFIE","x":7,"y":-2.65},{"p":"8364 unknowns","s":"CFIE","x":8,"y":-3.1},{"p":"8364 unknowns","s":"CFIE","x":9,"y":-3.6},{"p":"8364 unknowns","s":"CFIE","x":10,"y":-3.74},{"p":"8364 unknowns","s":"CFIE","x":11,"y":-3.78},{"p":"8364 unknowns","s":"CFIE","x":12,"y":-4.37},{"p":"8364 unknowns","s":"CFIE","x":13,"y":-4.8},{"p":"8364 unknowns","s":"CFIE","x":14,"y":-2.34},{"p":"8364 unknowns","s":"CFIE","x":15,"y":-4.9},{"p":"8364 unknowns","s":"CFIE","x":16,"y":-6.5}
]},
"facet": {"column": {"field": "p", "type": "nominal", "title": null, "header": {"labelFontSize": 27, "labelColor": "black", "labelFont": "Liberation Sans", "labelPadding": 12}}},
"spec": {
 "width": 200,
 "height": 427,
 "layer": [
  {"mark": {"type": "line", "clip": true},
   "encoding": {
    "x": {"field": "x", "type": "quantitative", "scale": {"domain": [0, 100], "nice": false}, "axis": {"values": [0, 50, 100], "title": "Iterations", "labelPadding": 12, "titlePadding": 6,
      "gridDash": [5,4.25,1.5,9.5,1.5,9.5,1.5,9.5,1.5,9.5,1.5,9.5,1.5,9.5,1.5,9.5,1.5,9.5,1.5,9.5,1.5,9.5,1.5,9.5,1.5,9.5,1.5,9.5,1.5,9.5,1.5,9.5,1.5,9.5,1.5,9.5,1.5,9.5,1.5,9.5,1.5,9.5,1.5,9.5,1.5,9.5,1.5,9.5,1.5,9.5,1.5,9.5,1.5,9.5,1.5,9.5,1.5,9.5,1.5,9.5,1.5,9.5,1.5,9.5,1.5,9.5,1.5,9.5,1.5,9.5,1.5,9.5,1.5,9.5,1.5,9.5,1.5,4.25,5,1000]}},
    "y": {"field": "y", "type": "quantitative", "scale": {"domain": [-6, 4], "nice": false, "zero": false}, "axis": {"values": [-6, -4, -2, 0, 2, 4], "title": "Residual (log)", "labelPadding": 7, "titlePadding": 10,
      "gridDash": [5,6.25,1.5,9.5,1.5,9.5,1.5,9.5,1.5,9.5,1.5,9.5,1.5,9.5,1.5,9.5,1.5,9.5,1.5,9.5,1.5,9.5,1.5,9.5,1.5,9.5,1.5,9.5,1.5,9.5,1.5,9.5,1.5,9.5,1.5,6.25,5,1000]}},
    "color": {"field": "s", "type": "nominal", "scale": {"domain": ["EFIE", "MFIE", "CFIE"], "range": ["black", "black", "black"]},
     "legend": {"orient": "none", "legendX": 58, "legendY": 227, "title": null, "direction": "vertical", "symbolType": "M-2,0H2", "symbolSize": 400, "symbolStrokeColor": "black", "symbolOffset": 13, "labelFontSize": 24, "labelColor": "black", "labelFont": "Liberation Sans", "labelOffset": 25, "strokeColor": "black", "fillColor": "white", "padding": 8, "rowPadding": 4,
      "encode": {"symbols": {"update": {"shape": {"signal": "datum.value === 'EFIE' ? 'M-2,0H2M-0.3,0A0.3,0.3 0 1,0 0.3,0A0.3,0.3 0 1,0 -0.3,0Z' : 'M-2,0H2'"}, "fill": {"signal": "datum.value === 'EFIE' ? 'black' : 'transparent'"}, "stroke": {"value": "black"}, "strokeWidth": {"signal": "datum.value === 'CFIE' ? 3.5 : (datum.value === 'MFIE' ? 0.8 : 1)"}}}}}},
    "strokeWidth": {"condition": [{"test": "datum.s === 'CFIE'", "value": 3.5}, {"test": "datum.s === 'MFIE'", "value": 0.8}], "value": 1}
   }},
  {"transform": [{"filter": "datum.s === 'EFIE'"}],
   "mark": {"type": "point", "filled": true, "color": "black", "size": 34, "opacity": 1, "clip": true},
   "encoding": {
    "x": {"field": "x", "type": "quantitative"},
    "y": {"field": "y", "type": "quantitative"}
   }}
 ]
}
}
